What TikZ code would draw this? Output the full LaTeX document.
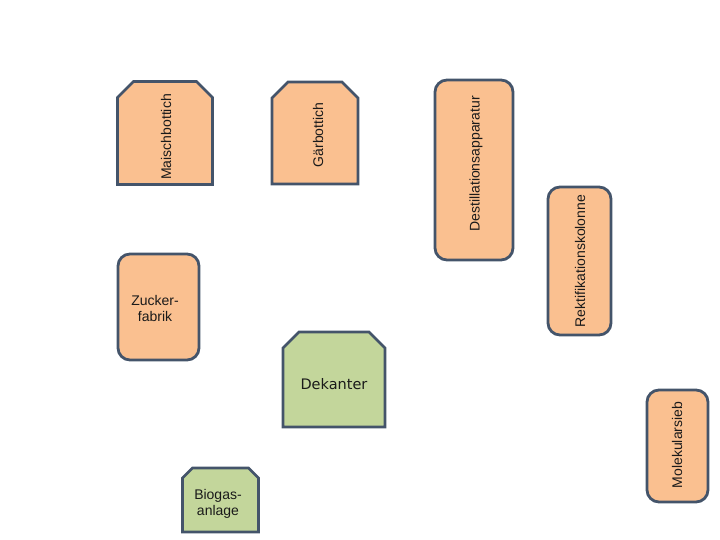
\documentclass[tikz,border=0pt]{standalone}
\usepackage{fontspec}
\setmainfont{Liberation Sans}
\newfontfamily\dekfont{DejaVu Sans}
\usetikzlibrary{calc}
\definecolor{edge}{HTML}{44546A}
\definecolor{orangefill}{HTML}{FAC090}
\definecolor{greenfill}{HTML}{C3D69B}
\definecolor{txt}{HTML}{1A1A1A}
\tikzset{
  box/.style={draw=edge, line width=2.8pt, inner sep=0pt, outer sep=0pt},
  roundbox/.style={box, fill=orangefill, rounded corners=12pt},
  frame/.style={inner sep=0pt, outer sep=0pt},
  chamline/.style={draw=edge, line width=2.8pt, line join=miter},
  label/.style={text=txt, font=\fontsize{14}{16}\selectfont, inner sep=0pt, align=center},
  vlabel/.style={label, rotate=90}
}
\newcommand{\chamferbox}[3]{%
  \draw[chamline, fill=#3]
    ($(#1.north west)+(0,#2)$) -- ($(#1.north west)+(#2,0)$) --
    ($(#1.north east)+(-#2,0)$) -- ($(#1.north east)+(0,#2)$) --
    (#1.south east) -- (#1.south west) -- cycle;}
\begin{document}
\begin{tikzpicture}[x=1pt,y=-1pt]
\useasboundingbox (0,0) rectangle (720,540);
% frames of chamfered shapes
\node[frame, minimum width=95pt, minimum height=103pt] (maisch) at (165,133) {};
\node[frame, minimum width=86pt, minimum height=102pt] (gaer) at (315,133) {};
\node[frame, minimum width=102pt, minimum height=95pt] (dek) at (334,379.5) {};
\node[frame, minimum width=76pt, minimum height=64pt] (biogas) at (220.5,500) {};
\chamferbox{maisch}{16}{orangefill}
\chamferbox{gaer}{16}{orangefill}
\chamferbox{dek}{16}{greenfill}
\chamferbox{biogas}{10}{greenfill}
% rounded shapes
\node[roundbox, minimum width=78pt, minimum height=180pt] (destill) at (474,170) {};
\node[roundbox, minimum width=63pt, minimum height=148pt] (rekt) at (579.5,261) {};
\node[roundbox, minimum width=81pt, minimum height=106pt] (zucker) at (158.5,307) {};
\node[roundbox, minimum width=61pt, minimum height=112pt] (mol) at (677.5,446) {};
% texts
\node[vlabel] (tmaisch) at (166,137) {Maischbottich};
\node[vlabel] (tgaer) at (318,135) {Gärbottich};
\node[vlabel] (tdestill) at (476,164) {Destillationsapparatur};
\node[vlabel] (trekt) at (580,261) {Rektifikationskolonne};
\node[vlabel] (tmol) at (677,445) {Molekularsieb};
\node[label] (tzucker) at (155,308) {Zucker-\\fabrik};
\node[label, font=\dekfont\fontsize{14.5}{16}\selectfont] (tdek) at (334,384) {Dekanter};
\node[label] (tbiogas) at (218,504) {Biogas-\\anlage};
\end{tikzpicture}
\end{document}
